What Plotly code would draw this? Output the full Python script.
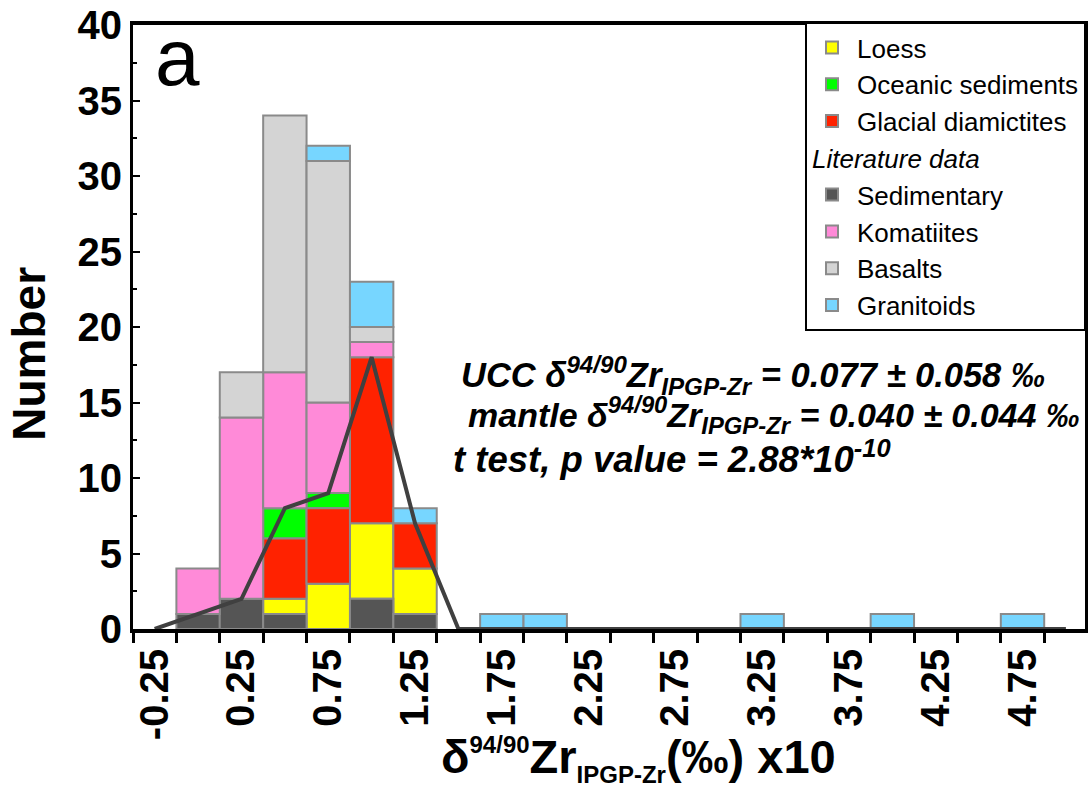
import plotly.graph_objects as go

# Histogram bins (centres, width 0.25) of delta94/90Zr x10
bin_centers = [-0.25, 0.0, 0.25, 0.5, 0.75, 1.0, 1.25, 1.5, 1.75, 2.0, 2.25,
               2.5, 2.75, 3.0, 3.25, 3.5, 3.75, 4.0, 4.25, 4.5, 4.75, 5.0]
bin_width = 0.25

# Counts per bin for each sample group
sedimentary = [0, 1, 2, 1, 0, 2, 1, 0, 0, 0, 0, 0, 0, 0, 0, 0, 0, 0, 0, 0, 0, 0]
loess       = [0, 0, 0, 1, 3, 5, 3, 0, 0, 0, 0, 0, 0, 0, 0, 0, 0, 0, 0, 0, 0, 0]
glacial     = [0, 0, 0, 4, 5, 11, 3, 0, 0, 0, 0, 0, 0, 0, 0, 0, 0, 0, 0, 0, 0, 0]
oceanic     = [0, 0, 0, 2, 1, 0, 0, 0, 0, 0, 0, 0, 0, 0, 0, 0, 0, 0, 0, 0, 0, 0]
komatiites  = [0, 3, 12, 9, 6, 1, 0, 0, 0, 0, 0, 0, 0, 0, 0, 0, 0, 0, 0, 0, 0, 0]
basalts     = [0, 0, 3, 17, 16, 1, 0, 0, 0, 0, 0, 0, 0, 0, 0, 0, 0, 0, 0, 0, 0, 0]
granitoids  = [0, 0, 0, 0, 1, 3, 1, 0, 1, 1, 0, 0, 0, 0, 1, 0, 0, 1, 0, 0, 1, 0]

tick_values = [-0.25, 0.25, 0.75, 1.25, 1.75, 2.25, 2.75, 3.25, 3.75, 4.25, 4.75]
tick_labels = ["-0.25", "0.25", "0.75", "1.25", "1.75", "2.25",
               "2.75", "3.25", "3.75", "4.25", "4.75"]

# Stacking order (bottom to top)
stack = [
    ("Sedimentary", sedimentary, "#555555", "lit"),
    ("Loess", loess, "#FFFF00", "own"),
    ("Glacial diamictites", glacial, "#FF2200", "own"),
    ("Oceanic sediments", oceanic, "#00FF00", "own"),
    ("Komatiites", komatiites, "#FF8AD8", "lit"),
    ("Basalts", basalts, "#D4D4D4", "lit"),
    ("Granitoids", granitoids, "#77D6FF", "lit"),
]
legend_order = ["Loess", "Oceanic sediments", "Glacial diamictites",
                "Sedimentary", "Komatiites", "Basalts", "Granitoids"]

bases = {}
running = [0] * len(bin_centers)
for name, vals, _, _ in stack:
    bases[name] = list(running)
    running = [r + v for r, v in zip(running, vals)]

# Sum of all sediment samples, drawn as a polyline
sediment_total = [a + b + c + d for a, b, c, d in zip(sedimentary, loess, glacial, oceanic)]

W, H = 1091, 796
ML, MR, MT, MB = 133, 3, 22, 167
PW, PH = W - ML - MR, H - MT - MB


def px(x):
    return (x - ML) / PW


def py(y):
    return (H - MB - y) / PH


fig = go.Figure()
info = {s[0]: s for s in stack}
for name in legend_order:
    _, vals, color, group = info[name]
    fig.add_trace(go.Bar(
        x=bin_centers,
        y=[v if v else None for v in vals],
        base=bases[name],
        width=bin_width,
        name=name,
        legendgroup=group,
        legendgrouptitle=dict(text="<i>Literature data</i>") if name == "Sedimentary" else None,
        marker=dict(color=color, line=dict(color="#8A8A8A", width=2)),
    ))

fig.add_trace(go.Scatter(
    x=bin_centers, y=sediment_total, mode="lines",
    line=dict(color="#404040", width=4), showlegend=False,
))

tick_font = dict(family="Liberation Sans, Arial", size=40, color="black", weight="bold")
legend_font = dict(family="Liberation Sans, Arial", size=26, color="black")

fig.update_layout(
    width=W, height=H,
    margin=dict(l=ML, r=MR, t=MT, b=MB),
    plot_bgcolor="white", paper_bgcolor="white",
    barmode="overlay",
    showlegend=True,
    legend=dict(
        x=1 + 1 / PW, y=1 + 3 / PH, xanchor="right", yanchor="top",
        bgcolor="white", bordercolor="black", borderwidth=2,
        font=legend_font, grouptitlefont=legend_font,
        traceorder="grouped", tracegroupgap=0, itemwidth=40,
    ),
    xaxis=dict(
        range=[-0.375, 5.11],
        tickmode="array", tickvals=tick_values, ticktext=tick_labels,
        tickangle=-90, ticks="", tickfont=tick_font,
        minor=dict(tickmode="array",
                   tickvals=[c - bin_width / 2 for c in bin_centers],
                   ticks="outside", ticklen=10, tickwidth=3, tickcolor="black"),
        showline=True, linecolor="black", linewidth=4, mirror=True,
        showgrid=False, zeroline=False, layer="below traces",
    ),
    yaxis=dict(
        range=[0, 40], dtick=5, tick0=0,
        ticks="inside", ticklen=7, tickwidth=2, tickcolor="black",
        tickfont=tick_font,
        minor=dict(dtick=2.5, ticks="inside", ticklen=4, tickwidth=2, tickcolor="black"),
        showline=True, linecolor="black", linewidth=3, mirror=True,
        showgrid=False, zeroline=False,
    ),
)

stats = [
    ("UCC δ<sup>94/90</sup>Zr<sub>IPGP-Zr</sub> = 0.077 ± 0.058 ‰", 460, 374, 34.5),
    ("mantle δ<sup>94/90</sup>Zr<sub>IPGP-Zr</sub> = 0.040 ± 0.044 ‰", 467, 414, 34),
    ("t test, p value = 2.88*10<sup>-10</sup>", 452, 456, 36.5),
]
for text, x0, y0, size in stats:
    fig.add_annotation(text=text, x=px(x0), y=py(y0), xref="paper", yref="paper",
                       xanchor="left", yanchor="middle", showarrow=False,
                       font=dict(family="Liberation Sans, Arial", size=size,
                                 color="black", weight="bold", style="italic"))

fig.add_annotation(text="a", x=px(153), y=py(55), xref="paper", yref="paper",
                   xanchor="left", yanchor="middle", showarrow=False,
                   font=dict(family="Liberation Sans, Arial", size=80, color="black"))

fig.add_annotation(text="Number", x=px(29), y=py(352), xref="paper", yref="paper",
                   xanchor="center", yanchor="middle", textangle=-90, showarrow=False,
                   font=dict(family="Liberation Sans, Arial", size=46, color="black", weight="bold"))

small = '<span style="font-size:24px">{}</span>'
fig.add_annotation(text="δ<sup>" + small.format("94/90") + "</sup>Zr<sub>"
                        + small.format("IPGP-Zr") + "</sub>(‰) x10",
                   x=px(640), y=py(760), xref="paper", yref="paper",
                   xanchor="center", yanchor="middle", showarrow=False,
                   font=dict(family="Liberation Sans, Arial", size=47, color="black", weight="bold"))

fig.write_html("out.html")
